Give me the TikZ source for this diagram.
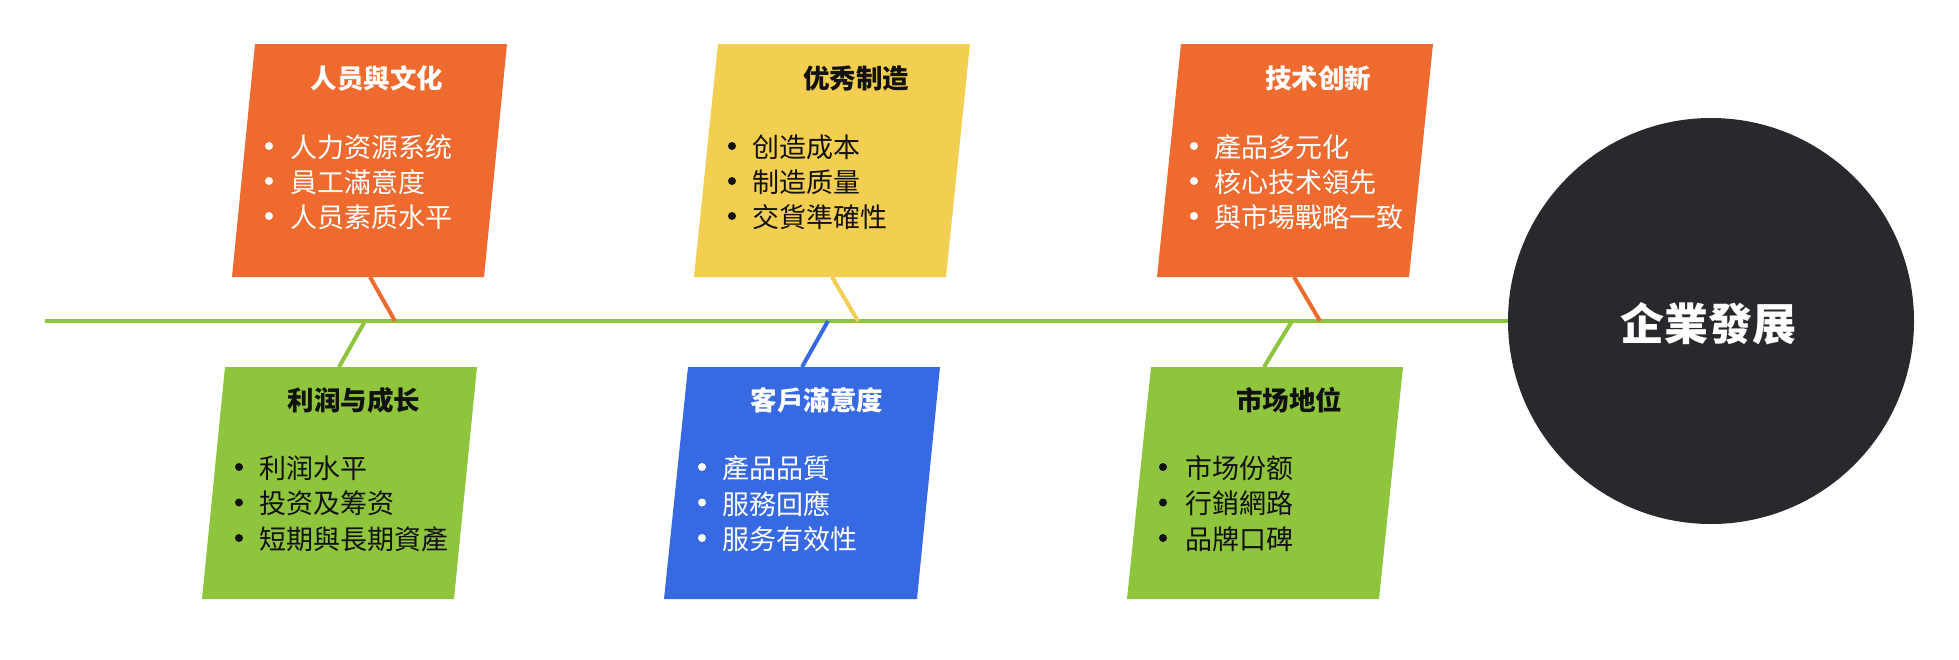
\documentclass[tikz,border=0pt]{standalone}
\usepackage{fontspec}
\setmainfont{Noto Sans CJK SC}
\definecolor{cOr}{HTML}{EE6A2F}
\definecolor{cYe}{HTML}{F2CF50}
\definecolor{cGr}{HTML}{8FC43D}
\definecolor{cBl}{HTML}{376AE2}
\definecolor{cDk}{HTML}{28292D}
\definecolor{cTx}{HTML}{111111}
\tikzset{
  ttl/.style={font=\fontsize{26.5}{30}\selectfont\bfseries, inner sep=0pt},
  itm/.style={font=\fontsize{27}{30}\selectfont, inner sep=0pt, anchor=west},
  dot/.style={circle, inner sep=0pt, minimum size=8pt},
  bone/.style={line width=4pt},
  goalnode/.style={circle, fill=cDk, minimum size=406pt, inner sep=0pt,
    text=white, font=\fontsize{44}{48}\selectfont\bfseries},
}
\begin{document}
\begin{tikzpicture}[x=1pt,y=-1pt]
\useasboundingbox (0,0) rectangle (1959,659);
% goal circle
\node[goalnode] (goal) at (1711,321) {};
% spine
\coordinate (spinestart) at (45,321);
% connector end points
\coordinate (s1) at (395,321);
\coordinate (s2) at (858,321);
\coordinate (s3) at (1320,321);
\coordinate (s4) at (365,321);
\coordinate (s5) at (828,321);
\coordinate (s6) at (1292,321);
\coordinate (t1b) at (370,277);
\coordinate (t2b) at (832,277);
\coordinate (t3b) at (1294,277);
\coordinate (b1t) at (339,367);
\coordinate (b2t) at (802,367);
\coordinate (b3t) at (1264,367);
\draw[bone, cGr] (spinestart) -- (goal.west);
\draw[bone, cOr] (t1b) -- (s1);
\draw[bone, cYe] (t2b) -- (s2);
\draw[bone, cOr] (t3b) -- (s3);
\draw[bone, cGr] (b1t) -- (s4);
\draw[bone, cBl] (b2t) -- (s5);
\draw[bone, cGr] (b3t) -- (s6);
% boxes
\fill[cOr] (255,44) -- (507,44) -- (484,277) -- (232,277) -- cycle;
\fill[cYe] (718,44) -- (970,44) -- (946,277) -- (694,277) -- cycle;
\fill[cOr] (1181,44) -- (1433,44) -- (1409,277) -- (1157,277) -- cycle;
\fill[cGr] (225,367) -- (477,367) -- (454,599) -- (202,599) -- cycle;
\fill[cBl] (688,367) -- (940,367) -- (917,599) -- (664,599) -- cycle;
\fill[cGr] (1151,367) -- (1403,367) -- (1379,599) -- (1127,599) -- cycle;
% goal text
\node[text=white, font=\fontsize{44}{48}\selectfont\bfseries, inner sep=0pt] (goaltext) at (1708,324) {企業發展};
% titles
\node[ttl, text=white] (t1) at (377,78) {人员與文化};
\node[ttl, text=cTx] (t2) at (856,78) {优秀制造};
\node[ttl, text=white] (t3) at (1318,78) {技术创新};
\node[ttl, text=cTx] (b1) at (354,400) {利润与成长};
\node[ttl, text=white] (b2) at (817,400) {客戶滿意度};
\node[ttl, text=cTx] (b3) at (1289,400) {市场地位};
% items
\foreach \t [count=\i] in {人力资源系统,員工滿意度,人员素质水平}{
  \node[dot, fill=white] (t1d\i) at (269,{146+35*(\i-1)}) {};
  \node[itm, text=white] (t1i\i) at (290,{147+35*(\i-1)}) {\t};
}
\foreach \t [count=\i] in {创造成本,制造质量,交貨準確性}{
  \node[dot, fill=cTx] (t2d\i) at (732,{146+35*(\i-1)}) {};
  \node[itm, text=cTx] (t2i\i) at (752,{147+35*(\i-1)}) {\t};
}
\foreach \t [count=\i] in {產品多元化,核心技术領先,與市場戰略一致}{
  \node[dot, fill=white] (t3d\i) at (1194,{146+35*(\i-1)}) {};
  \node[itm, text=white] (t3i\i) at (1214,{147+35*(\i-1)}) {\t};
}
\foreach \t [count=\i] in {利润水平,投资及筹资,短期與長期資產}{
  \node[dot, fill=cTx] (b1d\i) at (239,{467+35.5*(\i-1)}) {};
  \node[itm, text=cTx] (b1i\i) at (259,{468+35.5*(\i-1)}) {\t};
}
\foreach \t [count=\i] in {產品品質,服務回應,服务有效性}{
  \node[dot, fill=white] (b2d\i) at (702,{467+35.5*(\i-1)}) {};
  \node[itm, text=white] (b2i\i) at (722,{468+35.5*(\i-1)}) {\t};
}
\foreach \t [count=\i] in {市场份额,行銷網路,品牌口碑}{
  \node[dot, fill=cTx] (b3d\i) at (1163,{467+35.5*(\i-1)}) {};
  \node[itm, text=cTx] (b3i\i) at (1185,{468+35.5*(\i-1)}) {\t};
}
\end{tikzpicture}
\end{document}
